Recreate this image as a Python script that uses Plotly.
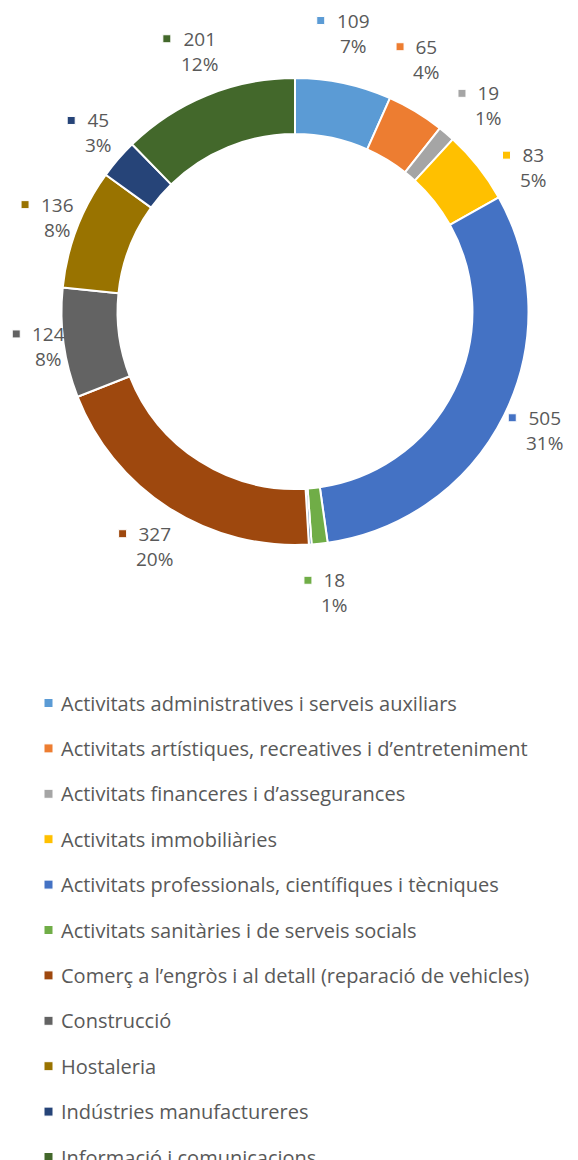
import math
import plotly.graph_objects as go

# page is 578x1160; the html body keeps an 8px margin, so the figure is
# 8px smaller and the axes are set in page pixels
W, H = 578, 1160
OFF = 8

categories = [
    'Activitats administratives i serveis auxiliars',
    'Activitats artístiques, recreatives i d’entreteniment',
    'Activitats financeres i d’assegurances',
    'Activitats immobiliàries',
    'Activitats professionals, científiques i tècniques',
    'Activitats sanitàries i de serveis socials',
    'Altres',
    'Comerç a l’engròs i al detall (reparació de vehicles)',
    'Construcció',
    'Hostaleria',
    'Indústries manufactureres',
    'Informació i comunicacions',
]
values = [109, 65, 19, 83, 505, 18, 3, 327, 124, 136, 45, 201]
colors = ['#5B9BD5', '#ED7D31', '#A5A5A5', '#FFC000', '#4472C4', '#70AD47',
          '#255E91', '#9E480E', '#636363', '#997300', '#264478', '#43682B']
# the tiny unnamed sliver has no label and no legend entry
shown = [True, True, True, True, True, True, False, True, True, True, True, True]

FONT = 'Open Sans'
TXT = '#595959'

# donut geometry (page pixels)
cx, cy, R = 295, 311.5, 233.5
min_sep = 16  # degrees between neighbouring labels


def label_radius(a):
    # labels sit a bit further out above / below the ring than at its sides
    return 255 + 28 * abs(math.cos(a))


fig = go.Figure()

fw, fh = W - OFF, H - OFF
fig.add_trace(go.Pie(
    labels=categories,
    values=values,
    marker=dict(colors=colors, line=dict(color='white', width=2)),
    hole=0.76,
    sort=False,
    direction='clockwise',
    rotation=0,
    textinfo='none',
    showlegend=False,
    domain=dict(x=[(cx - R - OFF) / fw, (cx + R - OFF) / fw],
                y=[1 - (cy + R - OFF) / fh, 1 - (cy - R - OFF) / fh]),
))

total = sum(values)
mids, lab = [], []
cum = 0
for i, v in enumerate(values):
    if shown[i]:
        mids.append((cum + v / 2) / total * 360)
        lab.append(i)
    cum += v

# push crowded labels apart a little
for _ in range(50):
    for k in range(len(mids) - 1):
        gap = mids[k + 1] - mids[k]
        if gap < min_sep:
            d = (min_sep - gap) / 2
            mids[k] -= d
            mids[k + 1] += d

annotations = []
sq_x, sq_y, sq_c, sq_s = [], [], [], []
for ang, i in zip(mids, lab):
    v = values[i]
    a = math.radians(ang)
    r = label_radius(a)
    # (bx, by) is the middle of the key square + number block
    bx = cx + r * math.sin(a)
    by = cy - r * math.cos(a)
    nx = bx + 10
    pct = round(v / total * 100)
    annotations.append(dict(
        x=nx, y=by, xref='x', yref='y', text=f'{v}<br>{pct}%',
        showarrow=False, xanchor='center', yanchor='middle', align='center',
        font=dict(family=FONT, size=19, color=TXT),
    ))
    nw = len(str(v)) * 10.9
    sq_x.append(nx - nw / 2 - 16)
    sq_y.append(by - 12.5)
    sq_c.append(colors[i])
    sq_s.append(8)

# legend drawn by hand so the last row is cut like in the original
leg_top, leg_step = 703, 45.4
leg_cats = [c for c, s in zip(categories, shown) if s]
leg_cols = [c for c, s in zip(colors, shown) if s]
for i, c in enumerate(leg_cats):
    y = leg_top + i * leg_step
    sq_x.append(48.5)
    sq_y.append(y)
    sq_c.append(leg_cols[i])
    sq_s.append(9)
    annotations.append(dict(
        x=59, y=y, xref='x', yref='y', text=c, showarrow=False,
        xanchor='left', yanchor='middle',
        font=dict(family=FONT, size=20, color=TXT),
    ))

fig.add_trace(go.Scatter(
    x=sq_x, y=sq_y, mode='markers',
    marker=dict(symbol='square', size=sq_s, color=sq_c, opacity=1),
    hoverinfo='skip', showlegend=False,
))

fig.update_xaxes(range=[OFF, W], visible=False, fixedrange=True)
fig.update_yaxes(range=[H, OFF], visible=False, fixedrange=True)
fig.update_layout(
    width=fw, height=fh,
    margin=dict(l=0, r=0, t=0, b=0),
    paper_bgcolor='white', plot_bgcolor='rgba(0,0,0,0)',
    annotations=annotations,
    showlegend=False,
)

fig.write_html('out.html')
